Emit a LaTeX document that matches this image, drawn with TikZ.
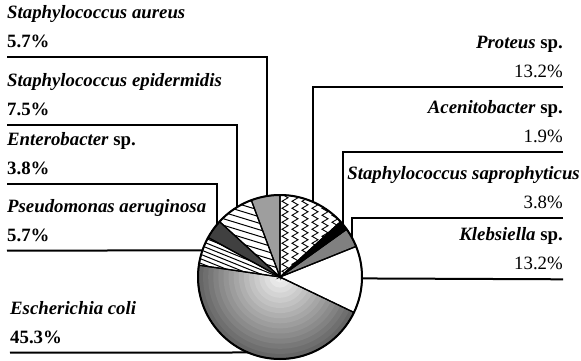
\documentclass[tikz,border=0pt]{standalone}
\usepackage{fontspec}
\setmainfont{Liberation Serif}
\usetikzlibrary{calc,decorations.pathmorphing}

\tikzset{
    lbl/.style={inner sep=0pt,font=\fontsize{18.8}{29}\selectfont\bfseries},
    leader/.style={line width=2pt},
    slice/.style={draw=black,line width=1.2pt},
    hatch/.style={line width=1pt},
}
% pie slice from angle #1 to #2
\newcommand{\pieslice}[2]{(280,83) -- ++(#1:82) arc[start angle=#1,end angle=#2,radius=82] -- cycle}

\begin{document}
\begin{tikzpicture}[x=1pt,y=1pt]
    \useasboundingbox (0,0) rectangle (581,360);
    \node[circle,minimum size=164pt,inner sep=0pt,outer sep=0pt] (pie) at (280,83) {};
    % slices
    \begin{scope}
        \clip \pieslice{171.7}{334.4};
        \foreach \i in {0,...,15}
            \fill[black!\fpeval{60-3.6*\i}] (pie.center) circle ({82-5.1*\i});
    \end{scope}
    \fill[white]    \pieslice{-25.6}{21.9};
    \fill[black!50] \pieslice{21.9}{35.6};
    \fill[black]    \pieslice{35.6}{42.4};
    \begin{scope}
        \clip \pieslice{42.4}{90};
        \foreach \xx in {285,295,...,365}
            \draw[decorate,decoration={zigzag,segment length=7pt,amplitude=3pt},line width=0.9pt] (\xx,80) -- (\xx,172);
    \end{scope}
    \fill[black!38] \pieslice{90}{110.5};
    \begin{scope}
        \clip \pieslice{110.5}{137.5};
        \foreach \k in {0,6.5,...,120}
            \draw[hatch] (180,83+\k) -- (290,83+\k-33.6);
    \end{scope}
    \fill[black!75] \pieslice{137.5}{151.2};
    \begin{scope}
        \clip \pieslice{151.2}{171.7};
        \foreach \k in {0,4.5,...,70}
            \draw[hatch] (190,83+\k) -- (290,83+\k-40.4);
    \end{scope}
    \foreach \a/\b in {-25.6/21.9,21.9/35.6,35.6/42.4,42.4/90,90/110.5,110.5/137.5,137.5/151.2,151.2/171.7,171.7/334.4}
        \draw[slice] \pieslice{\a}{\b};
    \draw[line width=2pt] (pie.center) circle (82);

    % labels left
    \node[lbl,align=left,anchor=south west] (aureus)        at (7,311.7) {\textit{Staphylococcus aureus}\\5.7\%};
    \node[lbl,align=left,anchor=south west] (epidermidis)   at (7,244)   {\textit{Staphylococcus epidermidis}\\7.5\%};
    \node[lbl,align=left,anchor=south west] (enterobacter)  at (7,184.7) {\textit{Enterobacter} sp.\\3.8\%};
    \node[lbl,align=left,anchor=south west] (pseudomonas)   at (7,118.3) {\textit{Pseudomonas aeruginosa}\\5.7\%};
    \node[lbl,align=left,anchor=south west] (ecoli)         at (10,16.3) {\textit{Escherichia coli}\\45.3\%};
    % labels right
    \node[lbl,align=right,anchor=south east] (proteus)       at (563,281.7) {\textit{Proteus} sp.\\\mdseries 13.2\%};
    \node[lbl,align=right,anchor=south east] (acinetobacter) at (563,217.3) {\textit{Acenitobacter} sp.\\\mdseries 1.9\%};
    \node[lbl,align=right,anchor=south east] (saprophyticus) at (580,150.7) {\textit{Staphylococcus saprophyticus}\\\mdseries 3.8\%\hspace*{17pt}};
    \node[lbl,align=right,anchor=south east] (klebsiella)    at (563,89.7)  {\textit{Klebsiella} sp.\\\mdseries 13.2\%};

    % leaders
    \draw[leader] ([yshift=-9pt]aureus.south west)       -| (pie.99.3);
    \draw[leader] ([yshift=-9pt]epidermidis.south west)  -| (pie.122.45);
    \draw[leader] ([yshift=-9pt]enterobacter.south west) -| (pie.140.2);
    \draw[leader] ([yshift=-9pt]pseudomonas.south west)  -- (pie.161.3);
    \draw[leader] ([yshift=-9pt]ecoli.south west)        -- (pie.247.4);
    \draw[leader] ([yshift=-9pt]proteus.south east)       -| (pie.66.5);
    \draw[leader] ([yshift=-9pt]acinetobacter.south east) -| (pie.40.1);
    \draw[leader] ([xshift=-17pt,yshift=-9pt]saprophyticus.south east) -| (pie.29);
    \draw[leader] ([yshift=-9pt]klebsiella.south east)    -- (pie.-1.6);
\end{tikzpicture}
\end{document}
